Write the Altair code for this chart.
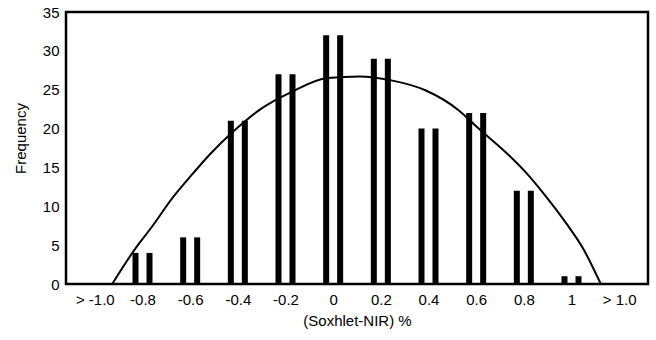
import altair as alt
import pandas as pd

# bin centres (category positions on the (Soxhlet-NIR) % axis) and counts
bin_pos = [-1.0, -0.8, -0.6, -0.4, -0.2, 0.0, 0.2, 0.4, 0.6, 0.8, 1.0, 1.2]
bin_labels = ["> -1.0", "-0.8", "-0.6", "-0.4", "-0.2", "0", "0.2", "0.4", "0.6", "0.8", "1", "> 1.0"]
freq = [0, 4, 6, 21, 27, 32, 29, 20, 22, 12, 1, 0]
y_ticks = [0, 5, 10, 15, 20, 25, 30, 35]

# fitted curve
curve_x = [-0.927, -0.836, -0.762, -0.671, -0.589, -0.514, -0.424, -0.300, -0.176, -0.024,
           0.112, 0.244, 0.389, 0.525, 0.607, 0.743, 0.813, 0.884, 0.978, 1.048, 1.123]
curve_y = [0.0, 4.3, 7.3, 11.2, 14.2, 16.8, 19.5, 22.6, 24.7, 26.5,
           26.7, 26.2, 24.9, 22.4, 20.1, 16.4, 14.2, 11.6, 7.8, 4.6, 0.0]

bars = pd.DataFrame({"pos": bin_pos, "freq": freq})
curve = pd.DataFrame({"x": curve_x, "y": curve_y})

font = "Liberation Sans"
label_arr = "[" + ",".join("'%s'" % l for l in bin_labels) + "]"

xscale = alt.Scale(domain=[-1.1, 1.3], nice=False, zero=False)
yscale = alt.Scale(domain=[0, 35], nice=False)

xaxis = alt.Axis(
    values=bin_pos,
    labelExpr=label_arr + "[round((datum.value + 1) * 5)]",
    ticks=False, domain=False, grid=False, labelOverlap=False,
    labelFont=font, labelFontSize=15, labelColor="black", labelPadding=8,
    title="(Soxhlet-NIR) %", titleFont=font, titleFontSize=15, titleFontWeight="normal",
    titleColor="black", titleY=36, titleBaseline="middle",
)
yaxis = alt.Axis(
    values=y_ticks, tickCount=8,
    ticks=False, domain=False, grid=False, labelOverlap=False,
    labelFont=font, labelFontSize=15, labelColor="black", labelPadding=7,
    title="Frequency", titleFont=font, titleFontSize=15, titleFontWeight="normal",
    titleColor="black", titleX=-46, titleY=126, titleBaseline="middle",
)

left = alt.Chart(bars).mark_bar(width=6, xOffset=-7, color="black").encode(
    x=alt.X("pos:Q", scale=xscale, axis=xaxis),
    y=alt.Y("freq:Q", scale=yscale, axis=yaxis),
)
right = alt.Chart(bars).mark_bar(width=6, xOffset=7, color="black").encode(
    x=alt.X("pos:Q", scale=xscale, axis=xaxis),
    y=alt.Y("freq:Q", scale=yscale, axis=yaxis),
)
line = alt.Chart(curve).mark_line(color="black", strokeWidth=2, interpolate="monotone").encode(
    x=alt.X("x:Q", scale=xscale, axis=xaxis),
    y=alt.Y("y:Q", scale=yscale, axis=yaxis),
)

chart = alt.layer(left, right, line).properties(
    width=582, height=272,
    autosize=alt.AutoSizeParams(type="none"),
    padding={"left": 66, "top": 12, "right": 8, "bottom": 56},
    background="white",
).configure_view(stroke="black", strokeWidth=2.5)

chart.save("out.html", embed_options={"renderer": "svg", "actions": False})
